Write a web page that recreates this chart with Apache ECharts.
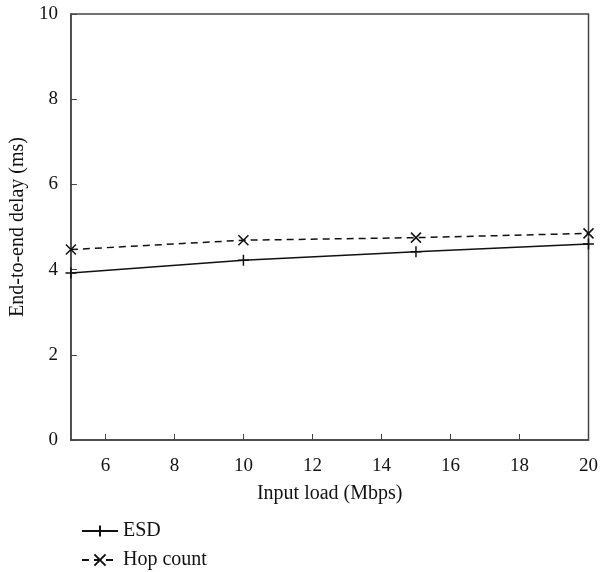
<!DOCTYPE html>
<html><head><meta charset="utf-8">
<script src="https://cdn.jsdelivr.net/npm/echarts@6/dist/echarts.min.js"></script>
<style>html,body{margin:0;padding:0;background:#fff}#c{width:601px;height:572px}</style>
</head><body><div id="c"></div>
<script>
const xValues = [5, 10, 15, 20];
const esd = [3.92, 4.22, 4.42, 4.60];
const hopCount = [4.47, 4.69, 4.75, 4.85];
const xTicks = [6, 8, 10, 12, 14, 16, 18, 20];
const yTicks = [0, 2, 4, 6, 8, 10];
const seriesNames = ['ESD', 'Hop count'];
const FONT = '"Liberation Serif", "DejaVu Serif", serif';
const chart = echarts.init(document.getElementById('c'));
const plus = 'path://M5,0L5,10M0,5L10,5';
const cross = 'path://M0,0L10,10M10,0L0,10';
const legendBase = {
  orient: 'vertical', left: 76, itemWidth: 36, itemHeight: 14,
  textStyle: {fontFamily: FONT, fontSize: 20, color: '#111'}
};
chart.setOption({
  animation: false,
  grid: {left: 70, right: 11, top: 14, bottom: 132, show: true, borderColor: '#444', borderWidth: 1.5},
  xAxis: {
    type: 'value', min: 5, max: 20,
    name: 'Input load (Mbps)', nameLocation: 'middle', nameGap: 44,
    nameTextStyle: {fontFamily: FONT, fontSize: 20, color: '#111'},
    axisLine: {show: true, lineStyle: {color: '#444', width: 1.5}},
    axisTick: {show: true, inside: true, length: 6, customValues: xTicks, lineStyle: {color: '#444'}},
    axisLabel: {customValues: xTicks, fontFamily: FONT, fontSize: 19, color: '#111', margin: 17},
    splitLine: {show: false}
  },
  yAxis: {
    type: 'value', min: 0, max: 10, interval: 2,
    name: 'End-to-end delay (ms)', nameLocation: 'middle', nameGap: 40,
    nameTextStyle: {fontFamily: FONT, fontSize: 20, color: '#111'},
    axisLine: {show: true, lineStyle: {color: '#444', width: 1.5}},
    axisTick: {show: true, inside: true, length: 6, lineStyle: {color: '#444'}},
    axisLabel: {fontFamily: FONT, fontSize: 19, color: '#111', margin: 13},
    splitLine: {show: false}
  },
  legend: [
    Object.assign({}, legendBase, {top: 516, data: [seriesNames[0]]}),
    Object.assign({}, legendBase, {top: 545, data: [seriesNames[1]]})
  ],
  series: [
    {name: seriesNames[0], type: 'line', data: xValues.map((x, i) => [x, esd[i]]),
     symbol: plus, symbolSize: 11,
     lineStyle: {color: '#111', width: 1.5, type: 'solid'},
     itemStyle: {color: '#111', borderColor: '#111', borderWidth: 1.5}},
    {name: seriesNames[1], type: 'line', data: xValues.map((x, i) => [x, hopCount[i]]),
     symbol: cross, symbolSize: 10,
     lineStyle: {color: '#111', width: 1.5, type: [7, 5]},
     itemStyle: {color: '#111', borderColor: '#111', borderWidth: 1.5}}
  ]
});
</script></body></html>
